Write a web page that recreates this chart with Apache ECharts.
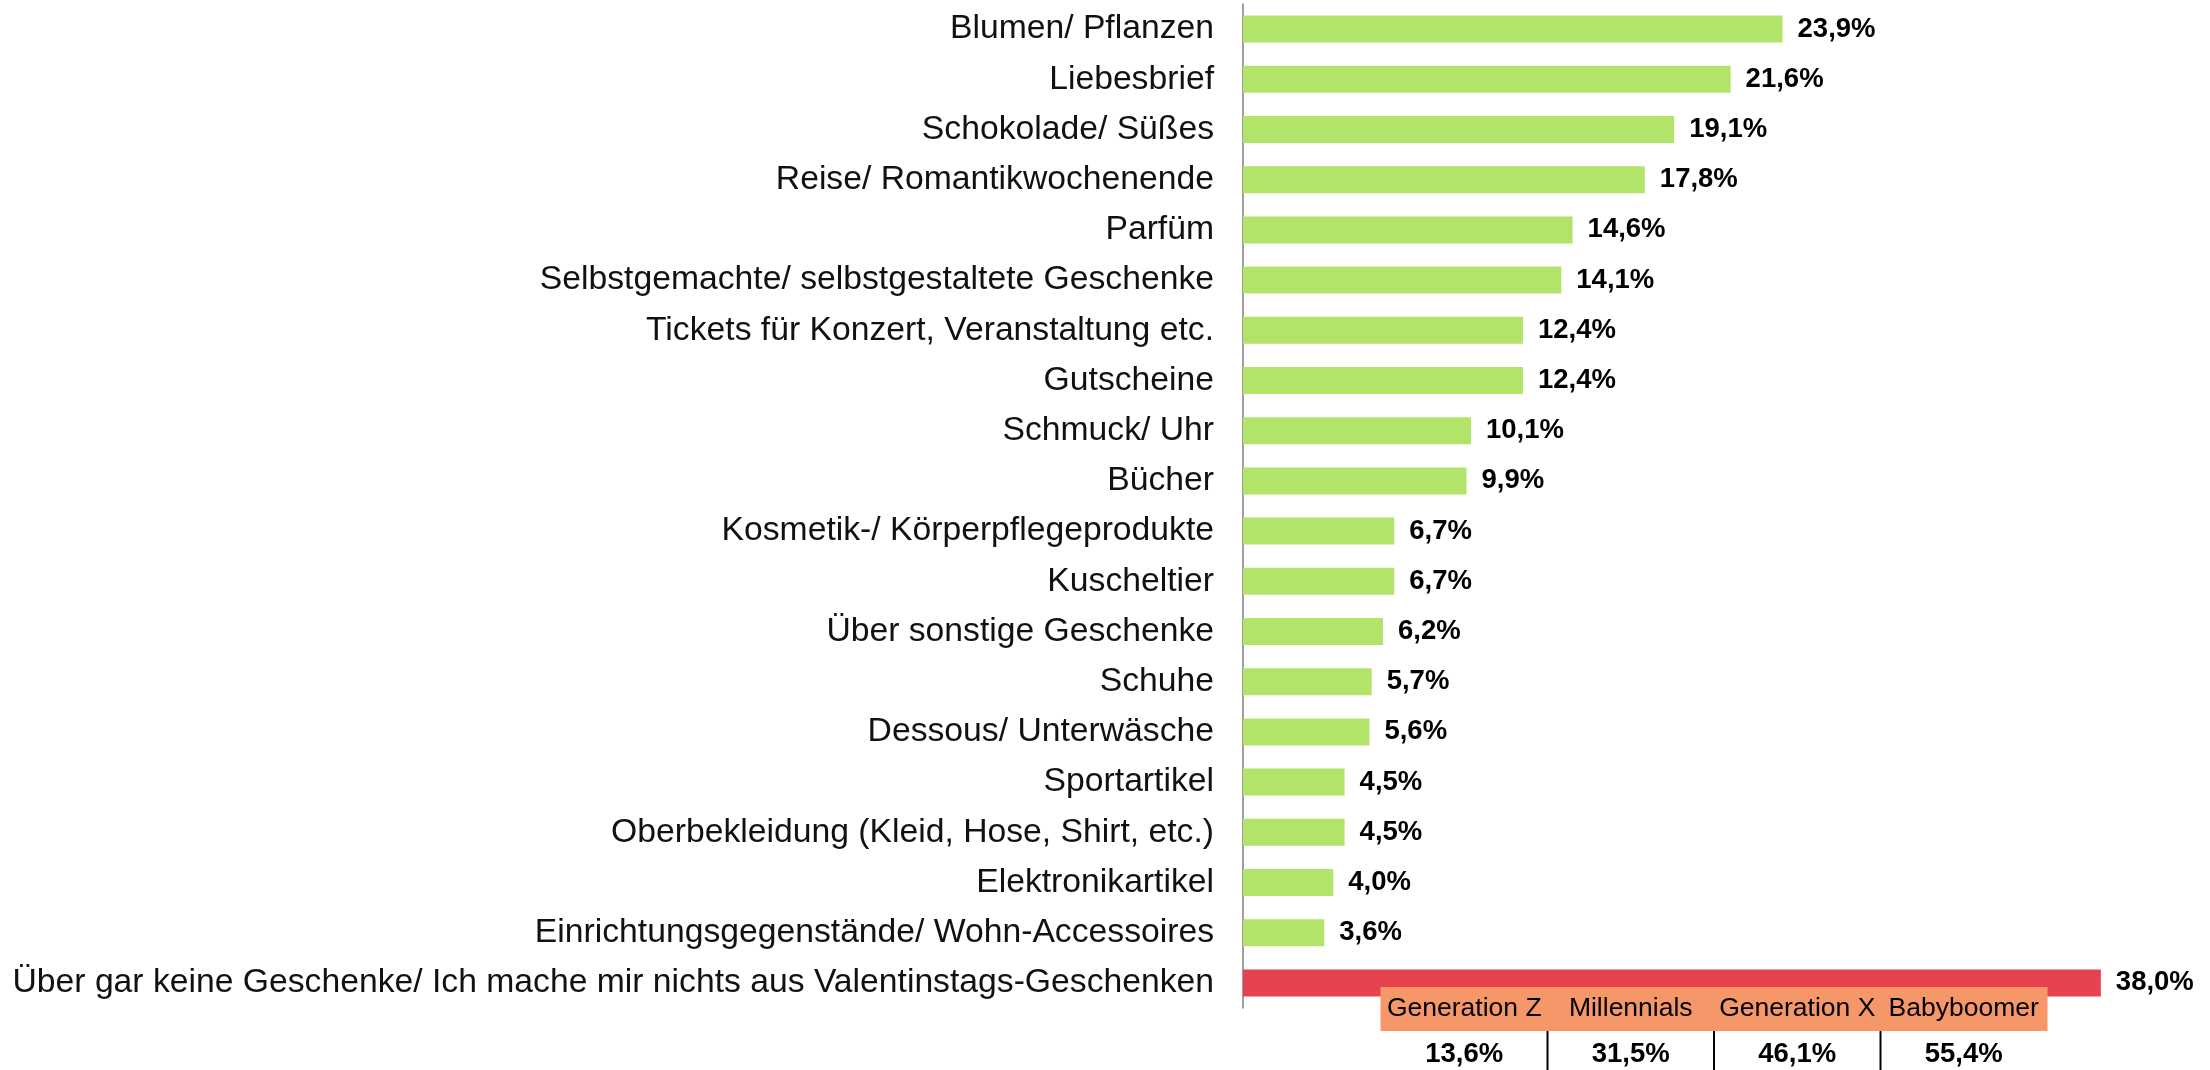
<!DOCTYPE html>
<html>
<head>
<meta charset="utf-8">
<script src="https://cdn.jsdelivr.net/npm/echarts@6/dist/echarts.min.js"></script>
<style>
  html, body { margin: 0; padding: 0; background: #fff; }
  #chart { width: 2210px; height: 1070px; }
</style>
</head>
<body>
<div id="chart"></div>
<script>
  var categories = [
    'Blumen/ Pflanzen',
    'Liebesbrief',
    'Schokolade/ Süßes',
    'Reise/ Romantikwochenende',
    'Parfüm',
    'Selbstgemachte/ selbstgestaltete Geschenke',
    'Tickets für Konzert, Veranstaltung etc.',
    'Gutscheine',
    'Schmuck/ Uhr',
    'Bücher',
    'Kosmetik-/ Körperpflegeprodukte',
    'Kuscheltier',
    'Über sonstige Geschenke',
    'Schuhe',
    'Dessous/ Unterwäsche',
    'Sportartikel',
    'Oberbekleidung (Kleid, Hose, Shirt, etc.)',
    'Elektronikartikel',
    'Einrichtungsgegenstände/ Wohn-Accessoires',
    'Über gar keine Geschenke/ Ich mache mir nichts aus Valentinstags-Geschenken'
  ];
  var values = [23.9, 21.6, 19.1, 17.8, 14.6, 14.1, 12.4, 12.4, 10.1, 9.9, 6.7, 6.7, 6.2, 5.7, 5.6, 4.5, 4.5, 4.0, 3.6, 38.0];
  // the last bar ("keine Geschenke") is highlighted in red
  var highlightIndex = 19;

  var generations = ['Generation Z', 'Millennials', 'Generation X', 'Babyboomer'];
  var generationValues = [13.6, 31.5, 46.1, 55.4];

  var FONT = '"Liberation Sans", Arial, sans-serif';
  var GREEN = '#B2E46A';
  var RED = '#E64250';
  var ORANGE = '#F59769';

  function pct(v) {
    return v.toFixed(1).replace('.', ',') + '%';
  }

  var chart = echarts.init(document.getElementById('chart'));

  var barData = values.map(function (v, i) {
    return {
      value: v,
      itemStyle: { color: i === highlightIndex ? RED : GREEN }
    };
  });

  var option = {
    backgroundColor: '#fff',
    animation: false,
    grid: [
      { left: 1243, top: 4, height: 1004, width: 903 },
      { left: 1381, top: 987, height: 83, width: 666 }
    ],
    xAxis: [
      { type: 'value', min: 0, max: 40, show: false },
      { type: 'category', gridIndex: 1, data: generations, show: false }
    ],
    yAxis: [
      {
        type: 'category',
        data: categories,
        inverse: true,
        axisLine: { show: true, lineStyle: { color: '#7f7f7f', width: 1.5 } },
        axisTick: { show: false },
        splitLine: { show: false },
        axisLabel: {
          margin: 29,
          color: '#111',
          fontSize: 33.7,
          fontFamily: FONT
        }
      },
      { type: 'value', gridIndex: 1, min: 0, max: 2.13, show: false }
    ],
    series: [
      {
        type: 'bar',
        data: barData,
        barWidth: 27,
        label: {
          show: true,
          position: 'right',
          distance: 15,
          color: '#000',
          fontSize: 27.5,
          fontWeight: 'bold',
          fontFamily: FONT,
          formatter: function (p) { return pct(p.value); }
        }
      },
      {
        type: 'custom',
        xAxisIndex: 1,
        yAxisIndex: 1,
        z: 5,
        data: generationValues.map(function (v, i) { return [i, v]; }),
        renderItem: function (params, api) {
          var i = api.value(0);
          var top = api.coord([i, 2.13]);
          var mid = api.coord([i, 1]);
          var bot = api.coord([i, 0]);
          var valPos = api.coord([i, 0.4]);
          var w = api.size([1, 0])[0];
          var x0 = top[0] - w / 2;
          var children = [
            {
              type: 'rect',
              shape: { x: x0 - 0.5, y: top[1], width: w + 1, height: mid[1] - top[1] },
              style: { fill: ORANGE }
            },
            {
              type: 'text',
              x: top[0],
              y: (top[1] + mid[1]) / 2,
              style: {
                text: generations[params.dataIndex],
                align: 'center',
                verticalAlign: 'middle',
                fill: '#000',
                font: '26.5px ' + FONT
              }
            },
            {
              type: 'text',
              x: valPos[0],
              y: valPos[1],
              style: {
                text: pct(api.value(1)),
                align: 'center',
                verticalAlign: 'middle',
                fill: '#000',
                font: 'bold 27.5px ' + FONT
              }
            }
          ];
          if (i > 0) {
            children.push({
              type: 'line',
              shape: { x1: x0, y1: mid[1], x2: x0, y2: bot[1] },
              style: { stroke: '#000', lineWidth: 2 }
            });
          }
          return { type: 'group', children: children };
        }
      }
    ]
  };

  chart.setOption(option);
</script>
</body>
</html>
